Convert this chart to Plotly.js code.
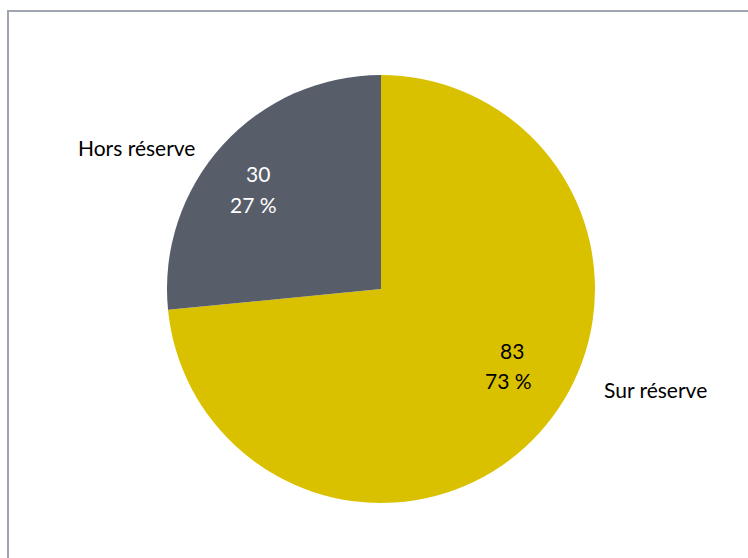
<!DOCTYPE html>
<html>
<head>
<meta charset="utf-8">
<script src="https://cdn.plot.ly/plotly-3.0.1.min.js"></script>
<style>html,body{margin:0;padding:0;background:#fff;}#chart{width:748px;height:558px;}</style>
</head>
<body>
<div id="chart"></div>
<script>
const categories = ["Sur réserve", "Hors réserve"];
const values = [83, 30];
const colors = ["#DAC100", "#575E6A"];
const valueTextColors = ["#000000", "#FFFFFF"];

const W = 748, H = 558;
const total = values.reduce((a, b) => a + b, 0);
const pctLabels = values.map(v => Math.round(v / total * 100) + " %");

function px(x) { return x / W; }
function py(y) { return 1 - y / H; }

const FONT = "Lato, 'Open Sans', sans-serif";
const FS = 21;

const trace = {
  type: "pie",
  labels: categories,
  values: values,
  sort: false,
  direction: "clockwise",
  rotation: 0,
  textinfo: "none",
  hoverinfo: "label+value+percent",
  marker: { colors: colors, line: { width: 0 } },
  domain: { x: [px(167), px(595)], y: [py(503), py(75)] },
  showlegend: false
};

// label positions (pixels) for each category: name, value, percent
const namePos = [[655, 389], [136, 147]];
const valPos = [[512, 350], [258, 173]];
const pctPos = [[508, 381], [253, 204]];

const annotations = [];
categories.forEach((c, i) => {
  annotations.push({ text: c, x: px(namePos[i][0]), y: py(namePos[i][1]), xref: "paper", yref: "paper",
    showarrow: false, xanchor: "center", yanchor: "middle", font: { family: FONT, size: FS, color: "#000" } });
  annotations.push({ text: String(values[i]), x: px(valPos[i][0]), y: py(valPos[i][1]), xref: "paper", yref: "paper",
    showarrow: false, xanchor: "center", yanchor: "middle", font: { family: FONT, size: FS, color: valueTextColors[i] } });
  annotations.push({ text: pctLabels[i], x: px(pctPos[i][0]), y: py(pctPos[i][1]), xref: "paper", yref: "paper",
    showarrow: false, xanchor: "center", yanchor: "middle", font: { family: FONT, size: FS, color: valueTextColors[i] } });
});

const layout = {
  width: W, height: H,
  margin: { l: 0, r: 0, t: 0, b: 0 },
  paper_bgcolor: "#ffffff",
  plot_bgcolor: "#ffffff",
  annotations: annotations,
  shapes: [
    { type: "line", xref: "paper", yref: "paper", x0: px(8), y0: py(559), x1: px(8), y1: py(11), line: { color: "#A0A6B0", width: 2 } },
    { type: "line", xref: "paper", yref: "paper", x0: px(7), y0: py(11), x1: px(749), y1: py(11), line: { color: "#A0A6B0", width: 2 } }
  ]
};

Plotly.newPlot("chart", [trace], layout, { displayModeBar: false, staticPlot: true });
</script>
</body>
</html>
